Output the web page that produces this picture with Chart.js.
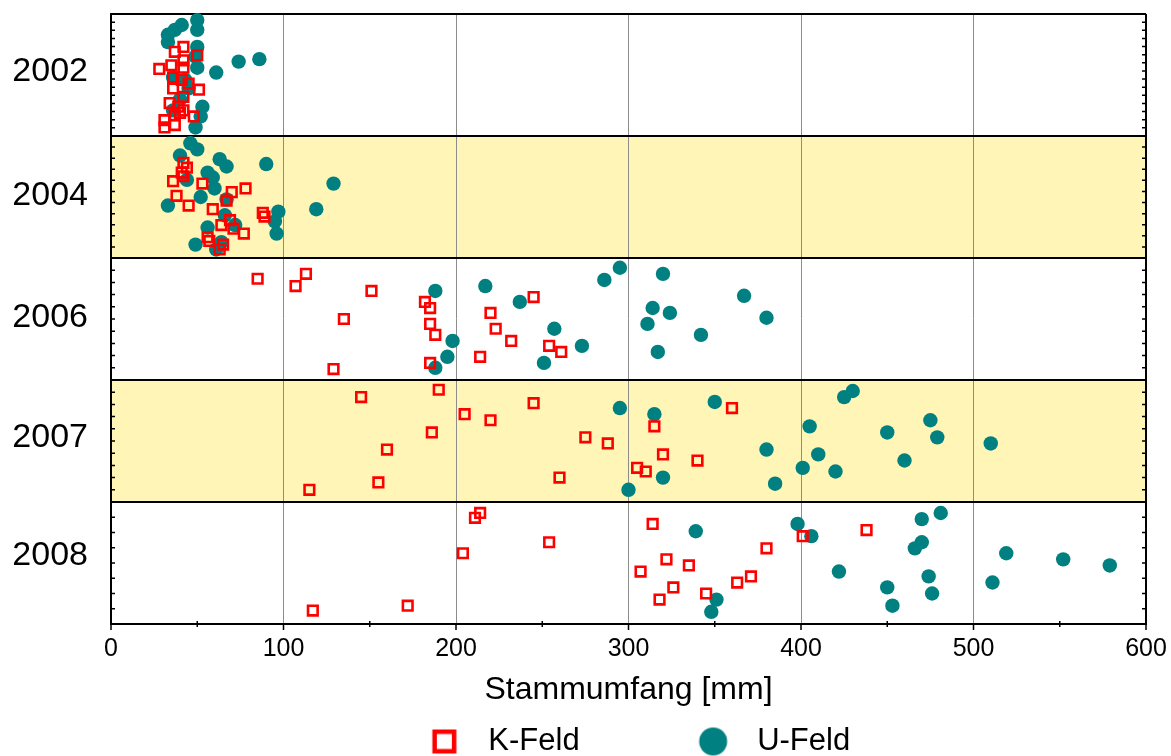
<!DOCTYPE html>
<html lang="de">
<head>
<meta charset="UTF-8">
<title>Stammumfang K-Feld / U-Feld</title>
<script src="https://cdn.jsdelivr.net/npm/chart.js@4.4.1/dist/chart.umd.min.js"></script>
<style>
  html, body { margin: 0; padding: 0; overflow: hidden; background: #fff; }
  canvas { display: block; }
</style>
</head>
<body>
<canvas id="chart" width="1171" height="767"></canvas>
<script>
// Jahrgaenge, von oben nach unten je ein Band
const years = ['2002', '2004', '2006', '2007', '2008'];
// Lage der Jahresbeschriftung auf der y-Achse (0 = oben, 5 = unten)
const yearLabelPos = [0.47, 1.49, 2.49, 3.47, 4.44];
// kleine Teilstriche je Band
const bandMinorTicks = [15, 11, 10, 10, 8];

// K-Feld: Stammumfang [mm] je Jahr, und Lage im Band (0..1 von oben)
const kFeldMm = [
    [42, 37, 50, 42, 28, 35, 42, 36, 41, 45, 51, 36, 42, 34, 39, 42, 37, 48, 31, 31, 37, 40],
    [42, 44, 41, 36, 53, 78, 70, 38, 45, 67, 59, 88, 89, 69, 64, 71, 77, 56, 57, 65, 63, 42],
    [85, 113, 107, 151, 135, 129, 182, 185, 185, 188, 185, 245, 220, 223, 232, 214, 254, 261],
    [145, 190, 160, 186, 115, 155, 205, 220, 245, 275, 288, 260, 315, 320, 305, 310, 340, 360],
    [117, 172, 204, 211, 214, 254, 314, 322, 307, 335, 326, 318, 345, 363, 371, 380, 401, 438]
];
const kFeldPos = [
    [0.27, 0.31, 0.34, 0.38, 0.45, 0.42, 0.44, 0.52, 0.54, 0.57, 0.62, 0.61, 0.68, 0.73, 0.76, 0.79, 0.83, 0.84, 0.87, 0.93, 0.91, 0.81],
    [0.22, 0.26, 0.30, 0.37, 0.39, 0.43, 0.46, 0.49, 0.57, 0.53, 0.60, 0.63, 0.66, 0.69, 0.73, 0.76, 0.80, 0.83, 0.86, 0.89, 0.93, 0.33],
    [0.17, 0.13, 0.23, 0.27, 0.50, 0.91, 0.36, 0.41, 0.54, 0.63, 0.86, 0.32, 0.45, 0.58, 0.68, 0.81, 0.72, 0.77],
    [0.14, 0.08, 0.57, 0.43, 0.90, 0.84, 0.28, 0.33, 0.19, 0.47, 0.52, 0.80, 0.38, 0.61, 0.72, 0.75, 0.66, 0.23],
    [0.89, 0.85, 0.42, 0.13, 0.09, 0.33, 0.18, 0.47, 0.57, 0.52, 0.70, 0.80, 0.75, 0.66, 0.61, 0.38, 0.28, 0.23]
];

// U-Feld
const uFeldMm = [
    [50, 41, 37, 33, 33, 50, 50, 49, 74, 86, 61, 50, 45, 36, 53, 52, 49, 36, 40, 43],
    [46, 50, 40, 63, 67, 90, 56, 59, 60, 44, 52, 33, 67, 97, 95, 96, 119, 129, 66, 56, 49, 64, 72, 61],
    [188, 198, 195, 188, 217, 237, 257, 273, 251, 286, 295, 320, 314, 324, 311, 342, 317, 367, 380],
    [295, 315, 350, 320, 300, 380, 385, 401, 410, 420, 405, 425, 430, 450, 460, 475, 479, 510],
    [339, 351, 348, 398, 406, 422, 450, 453, 470, 481, 470, 466, 474, 476, 519, 511, 552, 579]
];
const uFeldPos = [
    [0.05, 0.09, 0.13, 0.17, 0.23, 0.13, 0.27, 0.35, 0.39, 0.37, 0.48, 0.44, 0.61, 0.52, 0.76, 0.84, 0.93, 0.79, 0.70, 0.54],
    [0.06, 0.11, 0.16, 0.19, 0.25, 0.23, 0.30, 0.34, 0.43, 0.36, 0.50, 0.57, 0.52, 0.62, 0.70, 0.80, 0.60, 0.39, 0.65, 0.75, 0.89, 0.87, 0.73, 0.93],
    [0.27, 0.68, 0.81, 0.90, 0.23, 0.36, 0.58, 0.72, 0.86, 0.18, 0.08, 0.13, 0.41, 0.45, 0.54, 0.63, 0.77, 0.31, 0.49],
    [0.23, 0.28, 0.18, 0.80, 0.90, 0.57, 0.85, 0.72, 0.61, 0.75, 0.38, 0.14, 0.09, 0.43, 0.66, 0.33, 0.47, 0.52],
    [0.24, 0.80, 0.90, 0.18, 0.28, 0.57, 0.70, 0.85, 0.14, 0.09, 0.33, 0.38, 0.61, 0.75, 0.42, 0.66, 0.47, 0.52]
];

const RED = '#ff0000';
const TEAL = '#008080';
const BAND = '#fff5b7';
const FONT = 'Liberation Sans, Arial, sans-serif';

function toPoints(mm, pos) {
    let pts = [];
    years.forEach((_, i) => {
        mm[i].forEach((v, j) => pts.push({x: v, y: i + pos[i][j]}));
    });
    return pts;
}

// legend symbols: wide image so that the gap to the text matches
const LEG_W = 152;
function legendSymbol(kind) {
    let c = document.createElement('canvas');
    c.width = LEG_W;
    c.height = 34;
    let g = c.getContext('2d');
    let cx = LEG_W - 28.5, cy = 17;
    if (kind === 'rect') {
        g.strokeStyle = RED;
        g.lineWidth = 4.5;
        g.strokeRect(cx - 9.75, cy - 9.75, 19.5, 19.5);
    } else {
        g.fillStyle = TEAL;
        g.beginPath();
        g.arc(cx, cy, 14, 0, Math.PI * 2);
        g.fill();
    }
    return c;
}
const legendSymbols = [legendSymbol('rect'), legendSymbol('circle')];

function noPad(s) {
    s.paddingTop = 0;
    s.paddingBottom = 0;
    s.paddingLeft = 0;
    s.paddingRight = 0;
}

const bandPlugin = {
    id: 'bands',
    beforeDraw(chart) {
        const {ctx, chartArea: a, scales: {y}} = chart;
        ctx.save();
        ctx.fillStyle = BAND;
        years.forEach((_, i) => {
            if (i % 2 === 1) {
                let t = y.getPixelForValue(i), b = y.getPixelForValue(i + 1);
                ctx.fillRect(a.left, t, a.right - a.left, b - t);
            }
        });
        ctx.restore();
    }
};

const tickPlugin = {
    id: 'frameTicks',
    afterDraw(chart) {
        const {ctx, chartArea: a, scales: {x, y}} = chart;
        ctx.save();
        ctx.strokeStyle = '#000';
        ctx.lineWidth = 1.5;
        ctx.beginPath();
        for (let v = 0; v <= 600; v += 50) {
            let px = x.getPixelForValue(v);
            let major = v % 100 === 0;
            ctx.moveTo(px, a.bottom + (major ? 0 : -3));
            ctx.lineTo(px, a.bottom + (major ? 6 : 3));
        }
        years.forEach((_, i) => {
            let n = bandMinorTicks[i];
            for (let k = 1; k < n; k++) {
                let py = y.getPixelForValue(i + k / n);
                ctx.moveTo(a.left, py);
                ctx.lineTo(a.left + 4, py);
                ctx.moveTo(a.right, py);
                ctx.lineTo(a.right - 4, py);
            }
        });
        ctx.stroke();
        ctx.restore();
    }
};

new Chart(document.getElementById('chart'), {
    type: 'scatter',
    data: {
        datasets: [{
            label: 'K-Feld',
            data: toPoints(kFeldMm, kFeldPos),
            pointStyle: 'rect',
            pointRadius: 6.8,
            pointHoverRadius: 6.8,
            borderColor: RED,
            backgroundColor: 'rgba(0,0,0,0)',
            borderWidth: 2.6,
            clip: false
        }, {
            label: 'U-Feld',
            data: toPoints(uFeldMm, uFeldPos),
            pointStyle: 'circle',
            pointRadius: 7.2,
            pointHoverRadius: 7.2,
            borderColor: TEAL,
            backgroundColor: TEAL,
            borderWidth: 0,
            clip: false
        }]
    },
    options: {
        responsive: false,
        animation: false,
        devicePixelRatio: 1,
        events: [],
        layout: {padding: {left: 0, right: 0, top: 14, bottom: 0}},
        scales: {
            x: {
                type: 'linear',
                position: 'bottom',
                min: 0,
                max: 600,
                afterFit: s => { s.height = 92; noPad(s); },
                ticks: {stepSize: 100, padding: 10, color: '#000', maxRotation: 0, autoSkip: false,
                    font: {family: FONT, size: 25}},
                grid: {
                    drawTicks: false,
                    color: c => (c.tick.value === 0 || c.tick.value === 600) ? '#000' : '#8c8c8c',
                    lineWidth: c => (c.tick.value === 0 || c.tick.value === 600) ? 2 : 1
                },
                border: {color: '#000', width: 2},
                title: {display: true, text: 'Stammumfang [mm]', color: '#000',
                    padding: {top: 0, bottom: 7}, font: {family: FONT, size: 32}}
            },
            y: {
                type: 'linear',
                position: 'left',
                min: 0,
                max: 5,
                reverse: true,
                afterFit: s => { s.width = 111; noPad(s); },
                afterBuildTicks: s => {
                    let vals = [0, 1, 2, 3, 4, 5].concat(yearLabelPos).sort((a, b) => a - b);
                    s.ticks = vals.map(v => ({value: v}));
                },
                ticks: {
                    autoSkip: false,
                    padding: 23,
                    color: '#000',
                    font: {family: FONT, size: 34},
                    callback: v => {
                        let k = yearLabelPos.indexOf(v);
                        return k >= 0 ? years[k] : '';
                    }
                },
                grid: {
                    drawTicks: false,
                    color: c => Number.isInteger(c.tick.value) ? '#000' : 'rgba(0,0,0,0)',
                    lineWidth: 2
                },
                border: {color: '#000', width: 2}
            },
            // empty right margin, keeps the legend centred like the original
            yRight: {
                type: 'linear',
                position: 'right',
                min: 0,
                max: 5,
                afterFit: s => { s.width = 25; noPad(s); },
                ticks: {display: false},
                grid: {display: false},
                border: {display: false}
            }
        },
        plugins: {
            tooltip: {enabled: false},
            legend: {
                position: 'bottom',
                labels: {
                    usePointStyle: true,
                    pointStyleWidth: LEG_W,
                    padding: 10,
                    color: '#000',
                    font: {family: FONT, size: 31},
                    generateLabels: chart => {
                        let items = Chart.defaults.plugins.legend.labels.generateLabels(chart);
                        items.forEach((it, i) => { it.pointStyle = legendSymbols[i]; });
                        return items;
                    }
                }
            }
        }
    },
    plugins: [bandPlugin, tickPlugin]
});
</script>
</body>
</html>
